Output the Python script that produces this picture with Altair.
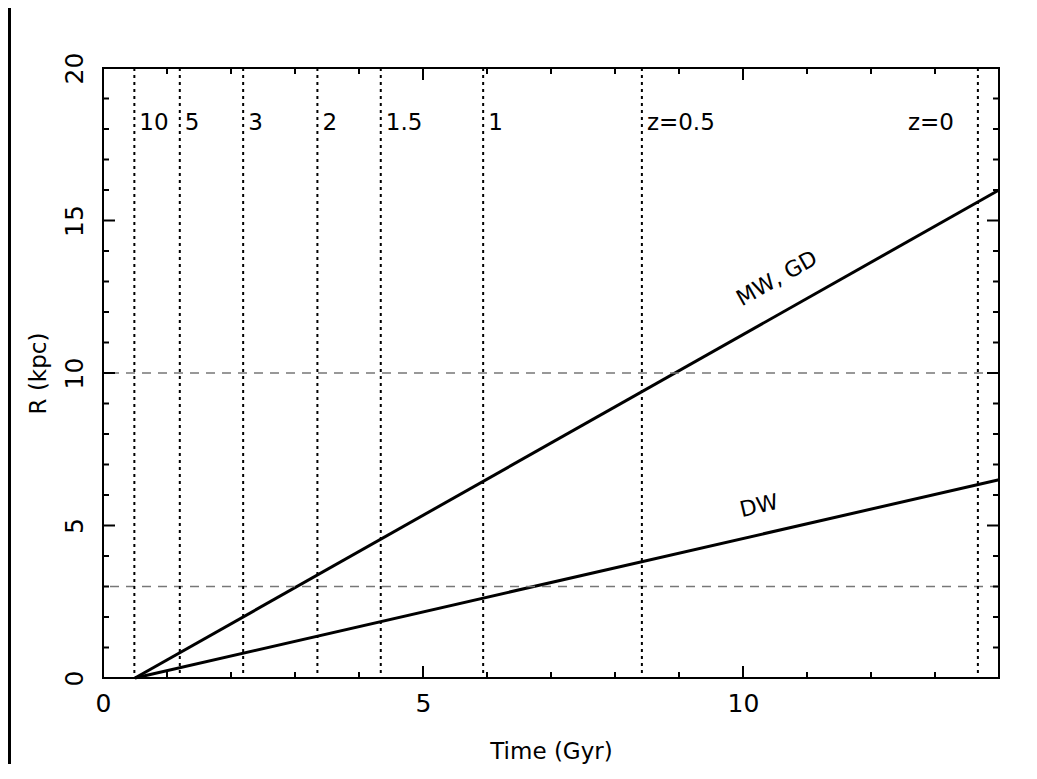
import altair as alt
import pandas as pd

# ---- data ----
x_major = [0, 5, 10]
x_minor = [1, 2, 3, 4, 6, 7, 8, 9, 11, 12, 13]
y_major = [0, 5, 10, 15, 20]
y_minor = [1, 2, 3, 4, 6, 7, 8, 9, 11, 12, 13, 14, 16, 17, 18, 19]

redshift_labels = ["10", "5", "3", "2", "1.5", "1", "z=0.5", "z=0"]
redshift_times = [0.49, 1.20, 2.19, 3.35, 4.34, 5.94, 8.42, 13.67]

ref_radii = [10, 3]

mw_time = [0.5, 14]
mw_r = [0, 16]
dw_time = [0.5, 14]
dw_r = [0, 6.5]

line_labels = ["MW, GD", "DW"]
line_label_time = [10.53, 10.25]
line_label_r = [13.1, 5.64]

W, H = 896, 610
FONT = "DejaVu Sans"

xs = alt.Scale(domain=[0, 14], nice=False, zero=False)
ys = alt.Scale(domain=[0, 20], nice=False, zero=False)

lines_df = pd.DataFrame({
    "t": mw_time + dw_time,
    "r": mw_r + dw_r,
    "series": ["MW, GD"] * len(mw_time) + ["DW"] * len(dw_time),
})
z_df = pd.DataFrame({"t": redshift_times, "label": redshift_labels})
ref_df = pd.DataFrame({"r": ref_radii})
xmaj = pd.DataFrame({"v": x_major})
xmin = pd.DataFrame({"v": x_minor})
ymaj = pd.DataFrame({"v": y_major})
ymin = pd.DataFrame({"v": y_minor})
lab_df = pd.DataFrame({"label": line_labels, "t": line_label_time, "r": line_label_r})

lines = alt.Chart(lines_df).mark_line(color="black", strokeWidth=3).encode(
    x=alt.X("t:Q", scale=xs, axis=alt.Axis(
        title="Time (Gyr)", values=x_major, grid=False, ticks=False, tickSize=0,
        domain=False, labelFont=FONT, labelFontSize=25, labelColor="black",
        labelFlush=False, labelPadding=13, titleFont=FONT, titleFontSize=23,
        titleFontWeight="normal", titleColor="black", titlePadding=24, format="d")),
    y=alt.Y("r:Q", scale=ys, axis=alt.Axis(
        title="R (kpc)", values=y_major, grid=False, ticks=False, tickSize=0,
        domain=False, labelFont=FONT, labelFontSize=25, labelColor="black",
        labelFlush=False, labelAngle=-90, labelPadding=16, titleFont=FONT,
        titleFontSize=23, titleFontWeight="normal", titleColor="black",
        titlePadding=12, format="d")),
    detail="series:N",
)

ref_lines = alt.Chart(ref_df).mark_rule(color="#777777", strokeWidth=1.3, strokeDash=[9, 7]).encode(
    y=alt.Y("r:Q", scale=ys)
)

z_lines = alt.Chart(z_df).mark_rule(color="black", strokeWidth=2, strokeDash=[3, 4]).encode(
    x=alt.X("t:Q", scale=xs)
)

z_text_left = alt.Chart(z_df).transform_filter("datum.label != 'z=0'").mark_text(
    align="left", baseline="middle", dx=5, font=FONT, fontSize=23, color="black"
).encode(x=alt.X("t:Q", scale=xs), y=alt.value(55), text="label:N")

z_text_right = alt.Chart(z_df).transform_filter("datum.label == 'z=0'").mark_text(
    align="right", baseline="middle", dx=-24, font=FONT, fontSize=23, color="black"
).encode(x=alt.X("t:Q", scale=xs), y=alt.value(55), text="label:N")

mw_label = alt.Chart(lab_df).transform_filter("datum.label == 'MW, GD'").mark_text(
    align="center", baseline="middle", angle=330.5, font=FONT, fontSize=22, color="black"
).encode(x=alt.X("t:Q", scale=xs), y=alt.Y("r:Q", scale=ys), text="label:N")

dw_label = alt.Chart(lab_df).transform_filter("datum.label == 'DW'").mark_text(
    align="center", baseline="middle", angle=347, font=FONT, fontSize=22, color="black"
).encode(x=alt.X("t:Q", scale=xs), y=alt.Y("r:Q", scale=ys), text="label:N")

MAJ, MIN = 12, 6
tick_style = dict(color="black", strokeWidth=2)

def xticks(df, length):
    bottom = alt.Chart(df).mark_rule(**tick_style).encode(
        x=alt.X("v:Q", scale=xs), y=alt.value(H), y2=alt.value(H - length))
    top = alt.Chart(df).mark_rule(**tick_style).encode(
        x=alt.X("v:Q", scale=xs), y=alt.value(0), y2=alt.value(length))
    return bottom + top

def yticks(df, length):
    left = alt.Chart(df).mark_rule(**tick_style).encode(
        y=alt.Y("v:Q", scale=ys), x=alt.value(0), x2=alt.value(length))
    right = alt.Chart(df).mark_rule(**tick_style).encode(
        y=alt.Y("v:Q", scale=ys), x=alt.value(W), x2=alt.value(W - length))
    return left + right

border = alt.Chart(ref_df).mark_rule(color="black", strokeWidth=3).encode(
    x=alt.value(-93.5), y=alt.value(-60), y2=alt.value(H + 100)
)

chart = alt.layer(
    lines, ref_lines, z_lines, z_text_left, z_text_right, mw_label, dw_label,
    xticks(xmaj, MAJ), xticks(xmin, MIN), yticks(ymaj, MAJ), yticks(ymin, MIN),
    border,
).properties(
    width=W, height=H,
    autosize=alt.AutoSizeParams(type="none"),
    padding={"left": 95, "top": 60, "right": 25, "bottom": 86},
    background="white",
).configure_view(stroke="black", strokeWidth=2)

chart.save("out.html", embed_options={"renderer": "svg", "actions": False})
